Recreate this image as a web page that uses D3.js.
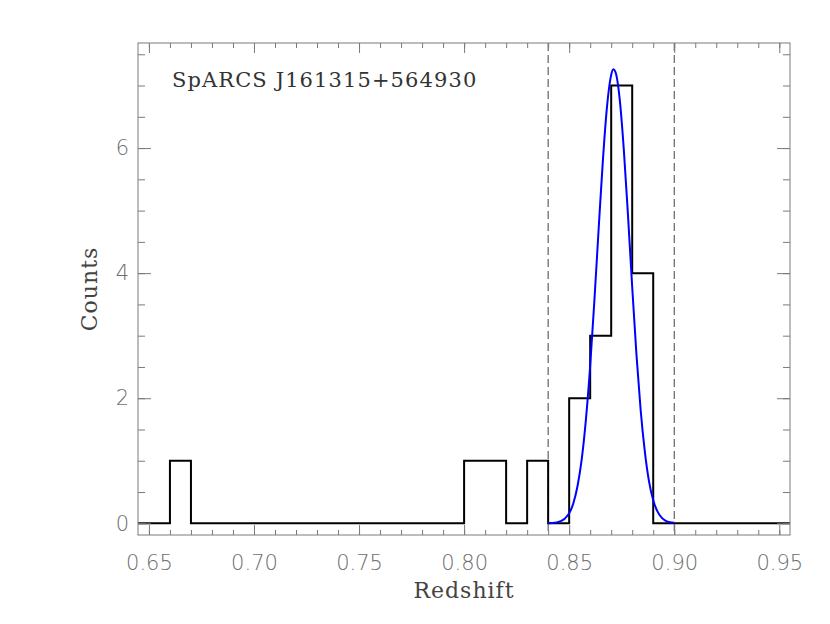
<!DOCTYPE html>
<html>
<head>
<meta charset="utf-8">
<script src="https://cdn.jsdelivr.net/npm/d3@7"></script>
<style>
  body { margin: 0; background: #fff; }
  svg { display: block; }
</style>
</head>
<body>
<script>
// histogram bin edges and counts (counts[i] between binEdges[i] and binEdges[i+1])
var binEdges = [0.64, 0.66, 0.67, 0.80, 0.82, 0.83, 0.84, 0.85, 0.86, 0.87, 0.88, 0.89, 0.96];
var counts   = [0,    1,    0,    1,    0,    1,    0,    2,    3,    7,    4,    0];

// gaussian fit curve
var fitZ = [0.840, 0.842, 0.844, 0.846, 0.848, 0.850, 0.852, 0.854, 0.856, 0.858,
            0.860, 0.862, 0.864, 0.866, 0.868, 0.870, 0.871, 0.872, 0.874, 0.876,
            0.878, 0.880, 0.882, 0.884, 0.886, 0.888, 0.890, 0.892, 0.894, 0.896,
            0.898, 0.900];
var fitN = [0.002, 0.005, 0.014, 0.034, 0.078, 0.16, 0.32, 0.60, 1.03, 1.67,
            2.52, 3.56, 4.69, 5.78, 6.66, 7.17, 7.26, 7.22, 6.80, 5.98,
            4.92, 3.78, 2.71, 1.82, 1.15, 0.67, 0.37, 0.19, 0.09, 0.04,
            0.017, 0.007];

var limits = [0.84, 0.90];
var xTicks = [0.65, 0.70, 0.75, 0.80, 0.85, 0.90, 0.95];
var yTicks = [0, 2, 4, 6];
var title = "SpARCS J161315+564930";

var width = 830, height = 624;
var pLeft = 138, pRight = 790, pTop = 43, pBottom = 535;

var x = d3.scaleLinear().domain([0.6448, 0.9551]).range([pLeft, pRight]);
var y = d3.scaleLinear().domain([-0.187, 7.68]).range([pBottom, pTop]);

var svg = d3.select("body").append("svg")
            .attr("width", width)
            .attr("height", height);

svg.append("clipPath").attr("id", "plot")
   .append("rect")
   .attr("x", pLeft).attr("y", pTop)
   .attr("width", pRight - pLeft).attr("height", pBottom - pTop);

var frameColor = "#7a7a7a";
var labelColor = "#6e6e6e";

// dashed limits
svg.selectAll("line.lim")
   .data(limits)
   .enter().append("line")
   .attr("class", "lim")
   .attr("x1", function(d){ return x(d); })
   .attr("x2", function(d){ return x(d); })
   .attr("y1", pTop).attr("y2", pBottom)
   .attr("stroke", "#444")
   .attr("stroke-width", 1)
   .attr("stroke-dasharray", "8,4");

// histogram
var histPts = binEdges.map(function(e, i){
  return [e, i < counts.length ? counts[i] : 0];
});
svg.append("path")
   .datum(histPts)
   .attr("clip-path", "url(#plot)")
   .attr("fill", "none")
   .attr("stroke", "#000")
   .attr("stroke-width", 2)
   .attr("d", d3.line()
                .x(function(d){ return x(d[0]); })
                .y(function(d){ return y(d[1]); })
                .curve(d3.curveStepAfter));

// gaussian fit
svg.append("path")
   .datum(fitZ.map(function(z, i){ return [z, fitN[i]]; }))
   .attr("clip-path", "url(#plot)")
   .attr("fill", "none")
   .attr("stroke", "#0000ff")
   .attr("stroke-width", 2)
   .attr("d", d3.line()
                .x(function(d){ return x(d[0]); })
                .y(function(d){ return y(d[1]); })
                .curve(d3.curveMonotoneX));

// axes
function styleAxis(g) {
  g.select(".domain").remove();
  g.selectAll("line").attr("stroke", frameColor);
  g.selectAll("text")
   .attr("fill", labelColor)
   .style("font-family", "'DejaVu Sans', sans-serif")
   .style("font-weight", "200")
   .style("font-size", "21px");
}

var xMinor = d3.range(65, 96).map(function(v){ return v / 100; });
var yMinor = d3.range(0, 16).map(function(v){ return v / 2; });

svg.append("g").attr("transform", "translate(0," + pBottom + ")")
   .call(d3.axisBottom(x).tickValues(xMinor).tickSize(-5).tickFormat(""))
   .call(styleAxis);
svg.append("g").attr("transform", "translate(0," + pBottom + ")")
   .call(d3.axisBottom(x).tickValues(xTicks).tickSize(-10).tickPadding(20)
           .tickFormat(d3.format(".2f")))
   .call(styleAxis);
svg.append("g").attr("transform", "translate(0," + pTop + ")")
   .call(d3.axisTop(x).tickValues(xMinor).tickSize(-5).tickFormat(""))
   .call(styleAxis);
svg.append("g").attr("transform", "translate(0," + pTop + ")")
   .call(d3.axisTop(x).tickValues(xTicks).tickSize(-10).tickFormat(""))
   .call(styleAxis);

svg.append("g").attr("transform", "translate(" + pLeft + ",0)")
   .call(d3.axisLeft(y).tickValues(yMinor).tickSize(-7).tickFormat(""))
   .call(styleAxis);
svg.append("g").attr("transform", "translate(" + pLeft + ",0)")
   .call(d3.axisLeft(y).tickValues(yTicks).tickSize(-13).tickPadding(9)
           .tickFormat(d3.format("d")))
   .call(styleAxis);
svg.append("g").attr("transform", "translate(" + pRight + ",0)")
   .call(d3.axisRight(y).tickValues(yMinor).tickSize(-7).tickFormat(""))
   .call(styleAxis);
svg.append("g").attr("transform", "translate(" + pRight + ",0)")
   .call(d3.axisRight(y).tickValues(yTicks).tickSize(-13).tickFormat(""))
   .call(styleAxis);

// frame
svg.append("rect")
   .attr("x", pLeft).attr("y", pTop)
   .attr("width", pRight - pLeft).attr("height", pBottom - pTop)
   .attr("fill", "none")
   .attr("stroke", frameColor)
   .attr("stroke-width", 1);

// labels
svg.append("text")
   .attr("x", 172).attr("y", 87)
   .attr("fill", "#333")
   .style("font-family", "'DejaVu Serif', serif")
   .style("font-size", "21px")
   .style("letter-spacing", "1.1px")
   .text(title);

svg.append("text")
   .attr("x", (pLeft + pRight) / 2).attr("y", 598)
   .attr("text-anchor", "middle")
   .attr("fill", "#444")
   .style("font-family", "'DejaVu Serif', serif")
   .style("font-size", "22px")
   .style("letter-spacing", "1px")
   .text("Redshift");

svg.append("text")
   .attr("transform", "translate(97," + ((pTop + pBottom) / 2) + ") rotate(-90)")
   .attr("text-anchor", "middle")
   .attr("fill", "#444")
   .style("font-family", "'DejaVu Serif', serif")
   .style("font-size", "22px")
   .style("letter-spacing", "1px")
   .text("Counts");
</script>
</body>
</html>
